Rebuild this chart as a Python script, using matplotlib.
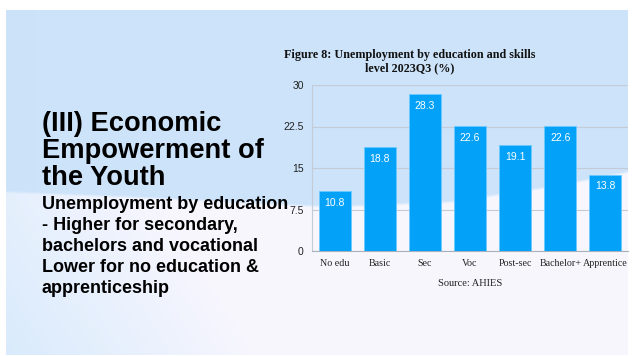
import numpy as np
import matplotlib
matplotlib.use("Agg")
import matplotlib.pyplot as plt

categories = ["No edu", "Basic", "Sec", "Voc", "Post-sec", "Bachelor+", "Apprentice"]
rates = [10.8, 18.8, 28.3, 22.6, 19.1, 22.6, 13.8]
yticks = [0, 7.5, 15, 22.5, 30]
ytick_labels = ["0", "7.5", "15", "22.5", "30"]

W, H = 644, 356
fig = plt.figure(figsize=(W / 100, H / 100), dpi=100)
fig.patch.set_facecolor("white")

# slide background: light blue top, pale wave at the bottom
bg = fig.add_axes([6 / W, 1 - 355 / H, 622 / W, 345 / H])
bg.set_axis_off()
nx, ny = 622, 345
xs = np.arange(nx) + 6
ys = np.arange(ny) + 10
X, Y = np.meshgrid(xs, ys)
top = np.array([0.80, 0.89, 0.98])
bx = [6, 150, 330, 450, 550, 628]
by = [190, 196, 205, 200, 185, 170]
edge = np.interp(xs, bx, by)
img = np.zeros((ny, nx, 3))
shade = 0.02 * (X - 6) / nx
img[:] = top
img += shade[..., None] * np.array([0.3, 0.2, 0.0])
low_left = np.array([0.85, 0.92, 0.99])
low_right = np.array([0.97, 0.965, 0.995])
t = np.clip((X - 6) / 250 + (355 - Y) / 400, 0, 1)
low = low_left * (1 - t[..., None]) + low_right * t[..., None]
soft = np.clip((Y - edge[None, :]) / 3, 0, 1)
img = img * (1 - soft[..., None]) + low * soft[..., None]
bg.imshow(np.clip(img, 0, 1), aspect="auto", extent=[0, 1, 0, 1])

# headline and bullet text
fig.text(42 / W, 1 - 111 / H, "(III) Economic\nEmpowerment of\nthe Youth",
         fontsize=19.6, fontweight="bold", family="Liberation Sans",
         va="top", ha="left", linespacing=1.05, color="black")
fig.text(42 / W, 1 - 196 / H,
         "Unemployment by education\n- Higher for secondary,\n"
         "bachelors and vocational\nLower for no education &\napprenticeship",
         fontsize=13, fontweight="bold", family="Liberation Sans",
         va="top", ha="left", linespacing=1.31, color="black")

# bar chart
ax = fig.add_axes([312 / W, 1 - 251 / H, 316 / W, 166 / H])
ax.set_facecolor("none")
x = np.arange(len(categories))
bars = ax.bar(x, rates, width=0.71, color="#03a1f7", edgecolor="#6ccaff", linewidth=0.6, zorder=3)
for b, v in zip(bars, rates):
    ax.text(b.get_x() + b.get_width() / 2, v - 1.2, f"{v}", ha="center", va="top",
            color="white", fontsize=7.5, family="Liberation Sans", zorder=4)
ax.set_xlim(-0.5, len(categories) - 0.5)
ax.set_ylim(0, 30)
ax.set_yticks(yticks)
ax.set_yticklabels(ytick_labels, family="Liberation Sans", fontsize=7.5)
ax.set_xticks(x)
ax.set_xticklabels(categories, family="Liberation Serif", fontsize=7.2)
ax.tick_params(length=0, pad=6, colors="#222222")
ax.grid(axis="y", color="#c3cbd6", linewidth=0.8, zorder=0)
for s in ["top", "right"]:
    ax.spines[s].set_visible(False)
ax.spines["left"].set_color("#c3cbd6")
ax.spines["bottom"].set_color("#a8b0bb")

fig.text(410 / W, 1 - 49 / H, "Figure 8: Unemployment by education and skills\nlevel 2023Q3 (%)",
         ha="center", va="top", fontsize=8.7, fontweight="bold",
         family="Liberation Serif", linespacing=1.15, color="#111111")
fig.text(470 / W, 1 - 283 / H, "Source: AHIES", ha="center", va="center",
         fontsize=7.5, family="Liberation Serif", color="#222222")

fig.savefig("out.png", dpi=100)
